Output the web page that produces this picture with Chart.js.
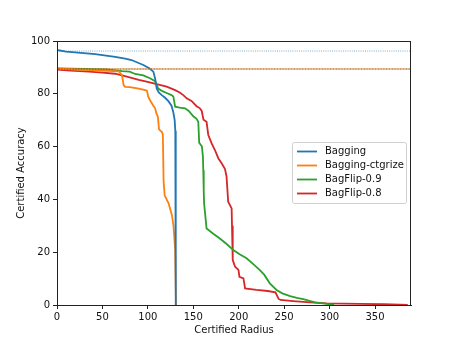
<!DOCTYPE html>
<html>
<head>
<meta charset="utf-8">
<script src="https://cdn.jsdelivr.net/npm/chart.js@4.4.1/dist/chart.umd.min.js"></script>
<style>
html,body{margin:0;padding:0;background:#fff;}
#wrap{width:457px;height:343px;}
</style>
</head>
<body>
<div id="wrap"><canvas id="c" width="457" height="343"></canvas></div>
<script>
// ---- data ----
const seriesNames = ["Bagging", "Bagging-ctgrize", "BagFlip-0.9", "BagFlip-0.8"];

const baggingX = [0, 10, 20, 42, 64, 75, 82, 95, 102, 106, 108, 109.7, 112, 115.3, 119, 122.6, 126, 128, 129.5, 130.2, 130.6, 130.8];
const baggingY = [96.6, 96.0, 95.7, 95.0, 94.0, 93.3, 92.8, 90.9, 89.6, 88.4, 85.8, 82.0, 80.5, 79.5, 78.5, 77.2, 75.5, 73.0, 70.0, 66.0, 40.0, 0];

const ctgrizeX = [0, 20, 35, 50, 68, 71.5, 73.3, 75, 80, 90, 97, 99, 100.4, 103, 106, 108, 109.5, 111, 112.3, 115.5, 116.5, 117.3, 118.5, 120, 122.8, 126.5, 128.3, 130, 131];
const ctgrizeY = [89.6, 89.2, 89.0, 88.8, 88.5, 87.1, 83.3, 82.6, 82.5, 82.0, 81.4, 81.2, 78.9, 77.2, 75.5, 74.5, 72.5, 71.3, 66.5, 65.5, 64.5, 47.0, 41.5, 40.5, 38.5, 34.0, 29.7, 21.0, 0];

const flip09X = [0, 30, 55, 71.5, 80, 86, 95, 102.3, 108, 111.4, 116, 120.7, 126, 128, 130, 135, 141, 145, 150, 153.6, 155.5, 156.5, 159.5, 160.6, 161, 161.5, 161.9, 164.6, 172, 179.2, 187, 194, 201, 208.6, 216, 223, 228, 234.2, 241.6, 248, 256.6, 264, 271, 284, 295, 305];
const flip09Y = [89.6, 89.4, 89.2, 88.6, 88.4, 87.5, 87.0, 85.9, 84.8, 82.0, 81.0, 80.3, 79.5, 79.0, 75.1, 74.8, 74.5, 73.5, 71.5, 70.5, 69.4, 61.5, 60.0, 56.2, 51.0, 43.0, 38.5, 29.0, 27.0, 25.2, 23.0, 20.8, 19.2, 17.7, 15.5, 13.3, 11.5, 8.2, 5.7, 4.4, 3.4, 2.7, 2.2, 1.0, 0.5, 0];

const flip08X = [0, 15, 35, 50, 64, 80, 90, 98.6, 109.7, 120.7, 130, 135, 139, 142.7, 148, 153.6, 157, 159.3, 161.2, 164.6, 166.5, 170.2, 173.8, 177.5, 181.2, 184.9, 186.6, 188.4, 192.2, 192.6, 193.4, 196, 199.7, 200.8, 205.2, 207, 219.6, 232, 240.4, 243.9, 246, 260, 278.6, 297, 333.6, 360, 386];
const flip08Y = [89.2, 88.8, 88.4, 88.0, 87.6, 86.2, 85.3, 84.6, 83.7, 82.7, 81.4, 80.5, 79.5, 78.3, 77.3, 75.3, 74.6, 73.5, 70.2, 69.4, 64.4, 61.2, 58.7, 55.6, 53.7, 51.5, 48.6, 39.1, 36.6, 30.0, 17.0, 14.5, 13.3, 10.7, 10.1, 6.3, 5.7, 5.3, 4.8, 2.3, 1.9, 1.5, 1.0, 0.6, 0.4, 0.3, 0];

// clean accuracy reference levels (dotted horizontal lines)
const cleanAccBagging = 96.2;
const cleanAccCtgrize = 89.4;
const cleanAccFlip09 = 89.4;
const cleanAccFlip08 = 89.4;

const xTicks = [0, 50, 100, 150, 200, 250, 300, 350];
const yTicks = [0, 20, 40, 60, 80, 100];
const xMin = 0, xMax = 389.6, yMin = 0, yMax = 100;
const xTitle = "Certified Radius";
const yTitle = "Certified Accuracy";

// ---- styles ----
const colors = ["#1f77b4", "#ff7f0e", "#2ca02c", "#d62728"];
const FONT = "'DejaVu Sans', sans-serif";

function pts(xs, ys) { return xs.map((x, i) => ({x: x, y: ys[i]})); }
function hline(v) { return [{x: xMin, y: v}, {x: xMax, y: v}]; }

const datasets = [
  {label: "_blueRef", data: hline(cleanAccBagging), borderColor: "rgba(31,119,180,0.6)", borderWidth: 1, borderDash: [1, 1.2]},
  {label: "_orangeRef", data: hline(cleanAccCtgrize), borderColor: colors[1], borderWidth: 1.2, borderDash: [1.4, 1.4]},
  {label: "_greenRef", data: hline(cleanAccFlip09), borderColor: "rgba(44,160,44,0.5)", borderWidth: 1.2, borderDash: [1.4, 1.4], borderDashOffset: 1.4},
  {label: "_redRef", data: hline(cleanAccFlip08), borderColor: "rgba(214,39,40,0.85)", borderWidth: 1.2, borderDash: [1.4, 1.4], borderDashOffset: 1.4}
].concat(seriesNames.map((n, i) => ({
  label: n,
  data: pts([baggingX, ctgrizeX, flip09X, flip08X][i], [baggingY, ctgrizeY, flip09Y, flip08Y][i]),
  borderColor: colors[i],
  borderWidth: 1.8
})));
datasets.forEach(d => { d.pointRadius = 0; d.tension = 0; d.fill = false; d.backgroundColor = d.borderColor; });

const framePlugin = {
  id: 'frame',
  afterDatasetsDraw(chart) {
    const {ctx, chartArea: a} = chart;
    ctx.save();
    ctx.strokeStyle = "#222";
    ctx.lineWidth = 1;
    ctx.strokeRect(Math.round(a.left) + 0.5, Math.round(a.top) + 0.5, Math.round(a.right - a.left) - 1, Math.round(a.bottom - a.top));
    ctx.restore();
  }
};

const legendPlugin = {
  id: 'innerLegend',
  afterDraw(chart) {
    const {ctx, chartArea: a} = chart;
    const w = 114, h = 61;
    const x0 = a.right - 5 - w, y0 = 142;
    ctx.save();
    ctx.fillStyle = "rgba(255,255,255,0.85)";
    ctx.strokeStyle = "#d0d0d0";
    ctx.lineWidth = 1;
    ctx.beginPath();
    ctx.roundRect(x0 + 0.5, y0 + 0.5, w, h, 2);
    ctx.fill();
    ctx.stroke();
    ctx.font = "10px " + FONT;
    ctx.textBaseline = "middle";
    ctx.fillStyle = "#111";
    seriesNames.forEach((n, i) => {
      const y = y0 + 9.5 + i * 14;
      ctx.strokeStyle = colors[i];
      ctx.lineWidth = 1.8;
      ctx.beginPath();
      ctx.moveTo(x0 + 5, y);
      ctx.lineTo(x0 + 25, y);
      ctx.stroke();
      ctx.fillText(n, x0 + 33, y);
    });
    ctx.restore();
  }
};

new Chart(document.getElementById('c'), {
  type: 'line',
  data: {datasets: datasets},
  options: {
    responsive: false,
    animation: false,
    devicePixelRatio: 1,
    layout: {padding: {top: 41, right: 46, left: 0, bottom: 0}},
    plugins: {legend: {display: false}, tooltip: {enabled: false}},
    scales: {
      x: {
        type: 'linear', min: xMin, max: xMax,
        afterBuildTicks(s) { s.ticks = xTicks.map(v => ({value: v})); },
        afterFit(s) { s.height = 38; },
        grid: {drawOnChartArea: false, tickLength: 4, color: "#222", lineWidth: 1},
        border: {display: true, color: "#222", width: 1},
        ticks: {font: {family: FONT, size: 10}, color: "#111", padding: 2, maxRotation: 0, autoSkip: false},
        title: {display: true, text: xTitle, font: {family: FONT, size: 10}, color: "#111", padding: {top: 0, bottom: 7}}
      },
      y: {
        type: 'linear', min: yMin, max: yMax,
        afterBuildTicks(s) { s.ticks = yTicks.map(v => ({value: v})); },
        afterFit(s) { s.width = 57; },
        grid: {drawOnChartArea: false, tickLength: 4, color: "#222", lineWidth: 1},
        border: {display: true, color: "#222", width: 1},
        ticks: {font: {family: FONT, size: 10}, color: "#111", padding: 3, autoSkip: false},
        title: {display: true, text: yTitle, font: {family: FONT, size: 10}, color: "#111", padding: {top: 15, bottom: 0}}
      }
    }
  },
  plugins: [framePlugin, legendPlugin]
});
</script>
</body>
</html>
